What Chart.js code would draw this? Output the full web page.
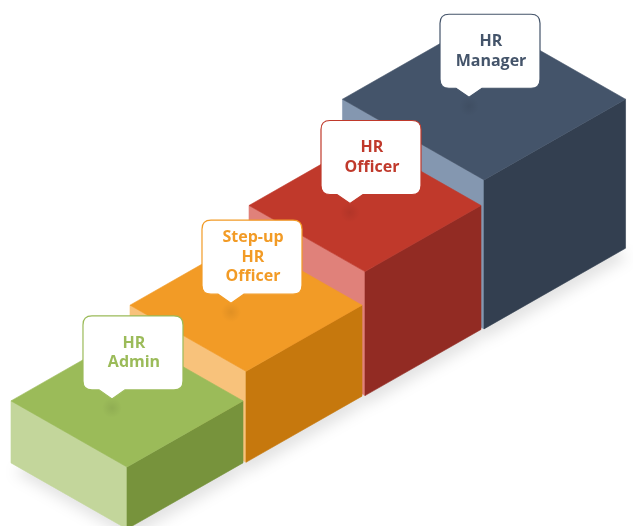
<!DOCTYPE html>
<html>
<head>
<meta charset="utf-8">
<script src="https://cdn.jsdelivr.net/npm/chart.js@4.4.1/dist/chart.umd.min.js"></script>
<style>
  html, body { margin: 0; padding: 0; background: #fff; }
  #wrap { width: 633px; height: 526px; position: relative; }
</style>
</head>
<body>
<div id="wrap"><canvas id="stairs"></canvas></div>
<script>
// career steps, bottom to top
const labels = [['HR', 'Admin'], ['Step-up', 'HR', 'Officer'], ['HR', 'Officer'], ['HR', 'Manager']];
const steps = [0, 1, 2, 3];
const levels = [62, 91, 124, 149];

const topColors = ['#9BBB59', '#F29B26', '#C0392B', '#44546A'];
const leftColors = ['#C3D69B', '#F8C27B', '#E0817A', '#8497B0'];
const rightColors = ['#77933C', '#C6780D', '#922B23', '#333F50'];
const boxScale = [1, 1, 1, 1.22];

// iso geometry (px)
const PITCH = 119;   // x distance between steps
const RISE = 66.7;   // ground rise between steps
const SLOPE = 0.57;  // slope of box edges
const FOOT = 116;    // box footprint
const GROUND0 = -3;  // ground under first box

function iso(chart, i, a, b, h) {
    const s = boxScale[i] * FOOT;
    const step = chart.data.datasets[0].data[i].x;
    const xv = step + (a - b) * s / PITCH;
    const yv = GROUND0 + step * RISE + (a + b) * s * SLOPE + h;
    return [chart.scales.x.getPixelForValue(xv), chart.scales.y.getPixelForValue(yv)];
}

function poly(ctx, pts, color) {
    ctx.beginPath();
    ctx.moveTo(pts[0][0], pts[0][1]);
    for (let k = 1; k < pts.length; k++) ctx.lineTo(pts[k][0], pts[k][1]);
    ctx.closePath();
    ctx.fillStyle = color;
    ctx.fill();
    ctx.strokeStyle = color;
    ctx.lineWidth = 0.6;
    ctx.stroke();
}

function bubble(ctx, x, y, w, h, r, tipX, tipY) {
    ctx.beginPath();
    ctx.moveTo(x + r, y);
    ctx.lineTo(x + w - r, y);
    ctx.quadraticCurveTo(x + w, y, x + w, y + r);
    ctx.lineTo(x + w, y + h - r);
    ctx.quadraticCurveTo(x + w, y + h, x + w - r, y + h);
    ctx.lineTo(tipX + 13, y + h);
    ctx.lineTo(tipX, tipY);
    ctx.lineTo(tipX - 13, y + h);
    ctx.lineTo(x + r, y + h);
    ctx.quadraticCurveTo(x, y + h, x, y + h - r);
    ctx.lineTo(x, y + r);
    ctx.quadraticCurveTo(x, y, x + r, y);
    ctx.closePath();
}

const stairsPlugin = {
    id: 'stairs3d',
    beforeDatasetsDraw(chart) {
        const ctx = chart.ctx;
        const data = chart.data.datasets[0].data;
        const n = data.length;

        // soft ground shadow
        ctx.save();
        ctx.filter = 'blur(7px)';
        ctx.fillStyle = 'rgba(0,0,0,0.11)';
        ctx.beginPath();
        for (let i = 0; i < n; i++) {
            const c = [iso(chart, i, 0, 0, 0), iso(chart, i, 1, 0, 0), iso(chart, i, 1, 1, 0), iso(chart, i, 0, 1, 0)];
            ctx.moveTo(c[0][0] + 3, c[0][1] + 9);
            c.slice(1).forEach(p => ctx.lineTo(p[0] + 3, p[1] + 9));
            ctx.closePath();
        }
        ctx.fill();
        ctx.restore();

        // boxes, back to front
        for (let i = n - 1; i >= 0; i--) {
            const h = data[i].y;
            poly(ctx, [iso(chart, i, 0, 0, h), iso(chart, i, 0, 1, h), iso(chart, i, 0, 1, 0), iso(chart, i, 0, 0, 0)], leftColors[i]);
            poly(ctx, [iso(chart, i, 0, 0, h), iso(chart, i, 1, 0, h), iso(chart, i, 1, 0, 0), iso(chart, i, 0, 0, 0)], rightColors[i]);
            poly(ctx, [iso(chart, i, 0, 0, h), iso(chart, i, 1, 0, h), iso(chart, i, 1, 1, h), iso(chart, i, 0, 1, h)], topColors[i]);
        }

        // callouts
        for (let i = 0; i < n; i++) {
            const h = data[i].y;
            const c = iso(chart, i, 0.5, 0.5, h);
            const tipX = c[0] - 15, tipY = c[1] - 2;
            const bx = tipX - 29, bw = 100, bh = 74;
            const by = tipY - 9 - bh;

            ctx.save();
            const g = ctx.createRadialGradient(tipX, tipY + 9, 0, tipX, tipY + 9, 10);
            g.addColorStop(0, 'rgba(0,0,0,0.07)');
            g.addColorStop(1, 'rgba(0,0,0,0)');
            ctx.fillStyle = g;
            ctx.fillRect(tipX - 12, tipY - 3, 24, 24);
            ctx.restore();

            bubble(ctx, bx, by, bw, bh, 9, tipX, tipY);
            ctx.fillStyle = '#ffffff';
            ctx.fill();
            ctx.strokeStyle = topColors[i];
            ctx.lineWidth = 1.2;
            ctx.stroke();

            const lines = labels[i];
            const lh = 19.5;
            ctx.fillStyle = topColors[i];
            ctx.font = 'bold 16px "Open Sans", sans-serif';
            ctx.textAlign = 'center';
            ctx.textBaseline = 'middle';
            const y0 = by + bh / 2 - (lines.length - 1) * lh / 2;
            lines.forEach((t, k) => ctx.fillText(t, bx + bw / 2 + 1, y0 + k * lh));
        }
    }
};

const canvas = document.getElementById('stairs');
new Chart(canvas, {
    type: 'scatter',
    data: {
        datasets: [{
            label: 'career level',
            data: steps.map((s, i) => ({ x: s, y: levels[i] })),
            pointRadius: 0,
            pointHoverRadius: 0,
        }],
    },
    options: {
        responsive: true,
        maintainAspectRatio: false,
        animation: false,
        layout: { padding: 0 },
        plugins: {
            legend: { display: false },
            tooltip: { enabled: false },
        },
        scales: {
            x: { type: 'linear', min: -1.067, max: 4.252, display: false },
            y: { type: 'linear', min: 0, max: 526, display: false },
        },
    },
    plugins: [stairsPlugin],
});
</script>
</body>
</html>
